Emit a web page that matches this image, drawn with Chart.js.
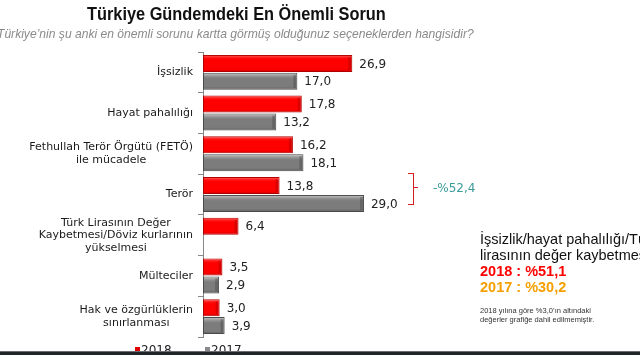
<!DOCTYPE html>
<html><head><meta charset="utf-8">
<script src="https://cdn.jsdelivr.net/npm/chart.js@4/dist/chart.umd.min.js"></script>
<style>
html,body{margin:0;padding:0;background:#fff;width:640px;height:355px;overflow:hidden;position:relative;font-family:"Liberation Sans",Arial,sans-serif}
#c{position:absolute;left:0;top:0}
.t{position:absolute;white-space:nowrap}
</style></head><body>
<canvas id="c" width="640" height="355"></canvas>
<div class="t" style="left:87px;top:3px;font-size:19px;font-weight:bold;color:#111;transform:scaleX(0.86);transform-origin:0 0">Türkiye Gündemdeki En Önemli Sorun</div>
<div class="t" style="left:-3px;top:27px;font-size:12.1px;font-style:italic;color:#8a8a8a">Türkiye’nin şu anki en önemli sorunu kartta görmüş olduğunuz seçeneklerden hangisidir?</div>
<div class="t" style="left:433px;top:181px;font-size:12px;font-family:'DejaVu Sans';color:#3c9a9a">-%52,4</div>
<div style="position:absolute;left:408px;top:173px;width:5px;height:30px;border:1.5px solid #d42020;border-left:none"></div>
<div style="position:absolute;left:414px;top:187px;width:4px;height:0;border-top:1.5px solid #d42020"></div>
<div class="t" style="left:480px;top:231px;font-size:14.5px;color:#111;line-height:16px">İşsizlik/hayat pahalılığı/Türk<br>lirasının değer kaybetmesi</div>
<div class="t" style="left:480px;top:263px;font-size:14.5px;font-weight:bold;color:#ff0000">2018 : %51,1</div>
<div class="t" style="left:480px;top:279px;font-size:14.5px;font-weight:bold;color:#f5a000">2017 : %30,2</div>
<div class="t" style="left:480px;top:306px;font-size:7.5px;color:#333;line-height:9px">2018 yılına göre %3,0’ın altındaki<br>değerler grafiğe dahil edilmemiştir.</div>
<div style="position:absolute;left:135px;top:347px;width:5px;height:5px;background:#e00000"></div>
<div class="t" style="left:141px;top:343px;font-size:12px;font-family:'DejaVu Sans';color:#222">2018</div>
<div style="position:absolute;left:205px;top:347px;width:5px;height:5px;background:#8a8a8a"></div>
<div class="t" style="left:211px;top:343px;font-size:12px;font-family:'DejaVu Sans';color:#222">2017</div>
<div style="position:absolute;left:0;top:351px;width:640px;height:4px;background:#1e2428;border-top:1px solid #6a6e72"></div>
<script>
const categories = [
  "İşsizlik",
  "Hayat pahalılığı",
  ["Fethullah Terör Örgütü (FETÖ)","ile mücadele"],
  "Terör",
  ["Türk Lirasının Değer","Kaybetmesi/Döviz kurlarının","yükselmesi"],
  "Mülteciler",
  ["Hak ve özgürlüklerin","sınırlanması"]
];
const series2018 = [26.9, 17.8, 16.2, 13.8, 6.4, 3.5, 3.0];
const series2017 = [17.0, 13.2, 18.1, 29.0, null, 2.9, 3.9];
const seriesNames = ["2018", "2017"];

const valueLabels = {
  id: 'valueLabels',
  afterDatasetsDraw(chart) {
    const ctx = chart.ctx;
    ctx.save();
    ctx.font = '12px "DejaVu Sans"';
    ctx.fillStyle = '#222';
    ctx.textBaseline = 'middle';
    chart.data.datasets.forEach((ds, di) => {
      chart.getDatasetMeta(di).data.forEach((el, i) => {
        const v = ds.data[i];
        if (v == null) return;
        ctx.fillText(v.toFixed(1).replace('.', ','), el.x + 7, el.y + 1);
      });
    });
    ctx.restore();
  }
};
// category labels: right-aligned block, lines centred within the block
const catLabels = {
  id: 'catLabels',
  afterDraw(chart) {
    const ctx = chart.ctx, sc = chart.scales.y;
    const right = sc.right - 10, lh = 12.5;
    ctx.save();
    ctx.font = '11px "DejaVu Sans"';
    ctx.fillStyle = '#1a1a1a';
    ctx.textBaseline = 'middle';
    ctx.textAlign = 'center';
    chart.data.labels.forEach((lab, i) => {
      const lines = Array.isArray(lab) ? lab : [lab];
      const w = Math.max(...lines.map(l => ctx.measureText(l).width));
      const cx = right - w / 2;
      const cy = sc.getPixelForTick(i);
      lines.forEach((l, k) => {
        ctx.fillText(l, cx, cy + (k - (lines.length - 1) / 2) * lh);
      });
    });
    ctx.restore();
  }
};
const bevel = {
  id: 'bevel',
  afterDatasetsDraw(chart) {
    const ctx = chart.ctx;
    ctx.save();
    chart.data.datasets.forEach((ds, di) => {
      chart.getDatasetMeta(di).data.forEach((el, i) => {
        if (ds.data[i] == null) return;
        const h = el.height, x0 = el.base, x1 = el.x, y0 = el.y - h/2;
        const g = ctx.createLinearGradient(0, y0, 0, y0 + h);
        if (di === 0) {
          g.addColorStop(0, 'rgba(255,170,170,0.7)');
          g.addColorStop(0.3, 'rgba(255,0,0,0)');
          g.addColorStop(0.8, 'rgba(200,0,0,0)');
          g.addColorStop(1, 'rgba(140,0,0,0.5)');
        } else {
          g.addColorStop(0, 'rgba(235,235,235,0.8)');
          g.addColorStop(0.35, 'rgba(160,160,160,0)');
          g.addColorStop(0.8, 'rgba(90,90,90,0)');
          g.addColorStop(1, 'rgba(50,50,50,0.5)');
        }
        ctx.fillStyle = g;
        ctx.fillRect(x0 + 1, y0 + 1, x1 - x0 - 2, h - 2);
        ctx.fillStyle = di === 0 ? 'rgba(150,0,0,0.35)' : 'rgba(60,60,60,0.35)';
        ctx.fillRect(x1 - 4, y0 + 2, 3, h - 4);
      });
    });
    ctx.restore();
  }
};

new Chart(document.getElementById('c'), {
  type: 'bar',
  data: {
    labels: categories,
    datasets: [
      { label: seriesNames[0], data: series2018, backgroundColor: '#ff0000', borderColor: '#b00000', borderWidth: 1, borderSkipped: false },
      { label: seriesNames[1], data: series2017, backgroundColor: '#7c7c7c', borderColor: '#4a4a4a', borderWidth: 1, borderSkipped: false }
    ]
  },
  options: {
    indexAxis: 'y',
    responsive: false,
    animation: false,
    categoryPercentage: 0.88,
    barPercentage: 0.95,
    layout: { padding: { left: 0, right: 215, top: 52, bottom: 18 } },
    plugins: { legend: { display: false }, tooltip: { enabled: false }, title: { display: false } },
    scales: {
      x: { display: false, min: 0, max: 40 },
      y: {
        afterFit(s) { s.width = 203; },
        grid: { drawOnChartArea: false, tickLength: 5, color: '#888', offset: true },
        border: { color: '#888', width: 1 },
        ticks: { autoSkip: false, color: 'rgba(0,0,0,0)', font: { family: 'DejaVu Sans', size: 11, lineHeight: 1.1 }, padding: 6 }
      }
    }
  },
  plugins: [bevel, valueLabels, catLabels]
});
</script>
</body></html>
